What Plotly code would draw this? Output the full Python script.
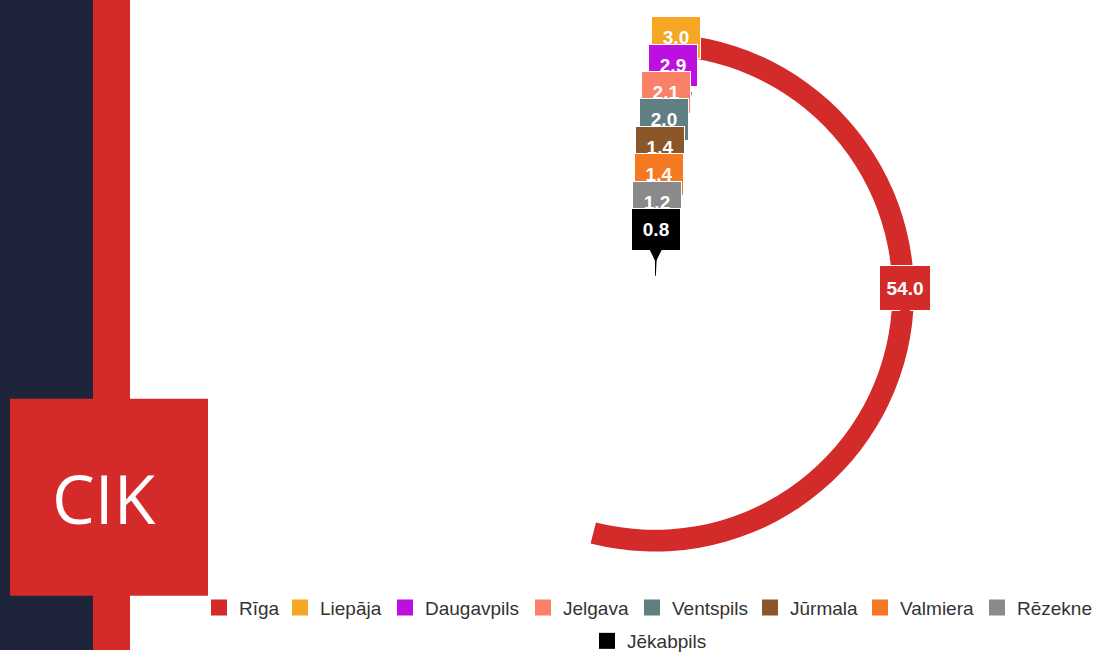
import math
import plotly.graph_objects as go

# ---------------- data ----------------
cities = ["Rīga", "Liepāja", "Daugavpils", "Jelgava", "Ventspils",
          "Jūrmala", "Valmiera", "Rēzekne", "Jēkabpils"]
values = [54.0, 3.0, 2.9, 2.1, 2.0, 1.4, 1.4, 1.2, 0.8]
colors = ["#d32a2a", "#f5a623", "#bd10e0", "#fa8068", "#5f7f82",
          "#8b572a", "#f47920", "#8a8a8a", "#000000"]
max_value = 100.0

# ---------------- geometry / style ----------------
W, H = 1098, 660
cx, cy = 655, 297          # centre of the radial chart (px)
R_px = 265                 # outer radius of polar area (px)
unit_px = 28               # ring spacing (px)
R_units = R_px / unit_px
thick = 22 / unit_px       # ring thickness in radial units

dom_x = [(cx - R_px) / W, (cx + R_px) / W]
dom_y = [(H - cy - R_px) / H, (H - cy + R_px) / H]

# legend layout (text start x in px, row centre y in px)
legend_text_x = [239, 320, 425, 563, 672, 790, 900, 1017, 627]
legend_row_y = [617] * 8 + [651]

fig = go.Figure()

n = len(cities)
for i, (c, v, col) in enumerate(zip(cities, values, colors)):
    ring = n - i  # Rīga outermost
    fig.add_trace(go.Barpolar(
        r=[thick],
        base=[ring - thick / 2],
        theta=[v / max_value * 360 / 2],
        width=[v / max_value * 360],
        name=c,
        marker=dict(color=col, line=dict(width=0)),
        showlegend=False,
        hoverinfo="name",
    ))

# legend entries (square swatches), one small legend per entry
legend_font = dict(family="Liberation Sans", size=19, color="#333333")
legend_layouts = {}
for i, (c, col) in enumerate(zip(cities, colors)):
    lname = "legend" if i == 0 else f"legend{i + 1}"
    fig.add_trace(go.Scatter(
        x=[None], y=[None], mode="markers", name=c,
        marker=dict(symbol="square", size=16, color=col),
        legend=lname, xaxis="x", yaxis="y", hoverinfo="skip",
    ))
    legend_layouts[lname] = dict(
        orientation="h", x=(legend_text_x[i] - 40) / W, xanchor="left",
        y=1 - legend_row_y[i] / H, yanchor="middle", font=legend_font,
        bgcolor="rgba(0,0,0,0)", borderwidth=0, itemclick=False,
        itemdoubleclick=False,
    )

annotations = []
for i, (c, v, col) in enumerate(zip(cities, values, colors)):
    ring = n - i
    ang = math.radians(v / max_value * 360 / 2)
    big = i == 0
    annotations.append(dict(
        x=ring * math.sin(ang), y=ring * math.cos(ang),
        xref="x", yref="y",
        text=f"{v:.1f}",
        font=dict(family="Liberation Sans", size=19, color="white", weight="bold"),
        bgcolor=col, bordercolor="white", borderwidth=1, borderpad=4,
        width=42 if big else 40, height=36 if big else 33,
        showarrow=True, ax=0, ay=-36 if big else -35,
        arrowhead=2, arrowsize=3.2, arrowwidth=1.5, arrowcolor=col, standoff=3,
    ))

annotations.append(dict(
    x=104 / W, y=1 - 505.5 / H, xref="paper", yref="paper",
    text="CIK", showarrow=False,
    font=dict(family="Open Sans", size=68, color="white"),
    xanchor="center", yanchor="middle",
))

shapes = [
    dict(type="rect", xref="paper", yref="paper", x0=0, x1=93 / W, y0=0, y1=1,
         fillcolor="#1e2439", line=dict(width=0), layer="above"),
    dict(type="rect", xref="paper", yref="paper", x0=93 / W, x1=130 / W, y0=0, y1=1,
         fillcolor="#d42a2a", line=dict(width=0), layer="above"),
    dict(type="rect", xref="paper", yref="paper", x0=10 / W, x1=208 / W,
         y0=1 - 605 / H, y1=1 - 405 / H,
         fillcolor="#d42a2a", line=dict(width=0), layer="above"),
]

fig.update_layout(
    width=W, height=H,
    margin=dict(l=0, r=0, t=0, b=0),
    paper_bgcolor="white", plot_bgcolor="rgba(0,0,0,0)",
    polar=dict(
        domain=dict(x=dom_x, y=dom_y),
        bgcolor="rgba(0,0,0,0)",
        radialaxis=dict(visible=False, range=[0, R_units]),
        angularaxis=dict(visible=False, rotation=90, direction="clockwise"),
    ),
    xaxis=dict(domain=dom_x, range=[-R_units, R_units], visible=False, fixedrange=True),
    yaxis=dict(domain=dom_y, range=[-R_units, R_units], visible=False, fixedrange=True),
    annotations=annotations,
    shapes=shapes,
    showlegend=True,
    **legend_layouts,
)

fig.write_html(
    "out.html",
    config={"displayModeBar": False},
    post_script="document.body.style.margin='0';document.body.style.overflow='hidden';",
)
